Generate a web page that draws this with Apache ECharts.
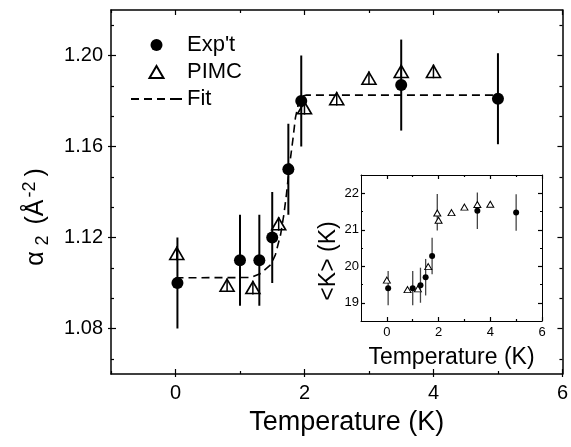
<!DOCTYPE html>
<html>
<head>
    <meta charset="utf-8">
    <title>alpha2 vs temperature</title>
    <script src="https://cdn.jsdelivr.net/npm/echarts@6/dist/echarts.min.js"></script>
    <style>
        html, body { margin: 0; padding: 0; background: #fff; }
        #chart { width: 571px; height: 447px; }
    </style>
</head>
<body>
<div id="chart"></div>
<script>
    // main panel data
    var expT = [0.03, 1.0, 1.3, 1.5, 1.75, 1.95, 3.5, 5.0];
    var expA = [1.100, 1.110, 1.110, 1.120, 1.150, 1.180, 1.187, 1.181];
    var expErr = [0.02, 0.02, 0.02, 0.02, 0.02, 0.02, 0.02, 0.02];

    var pimcT = [0.02, 0.8, 1.2, 1.6, 2.0, 2.5, 3.0, 3.5, 4.0];
    var pimcA = [1.113, 1.099, 1.098, 1.126, 1.177, 1.181, 1.190, 1.193, 1.193];
    var pimcErr = [0.003, 0.003, 0.003, 0.003, 0.003, 0.003, 0.003, 0.003, 0.003];

    var fitT = [0.0, 1.17, 1.32, 1.48, 1.55, 1.63, 1.68, 1.72, 1.77, 1.82, 1.86, 1.91, 1.95, 2.03, 5.0];
    var fitA = [1.1023, 1.1024, 1.1042, 1.1081, 1.1125, 1.1213, 1.130, 1.1389, 1.152, 1.163, 1.1727, 1.1793, 1.182, 1.1826, 1.1826];

    // inset data
    var inExpT = [0.05, 1.0, 1.3, 1.5, 1.75, 3.5, 5.0];
    var inExpK = [19.40, 19.40, 19.48, 19.70, 20.28, 21.52, 21.47];
    var inExpErr = [0.47, 0.47, 0.48, 0.5, 0.5, 0.5, 0.5];
    var inBarT = [1.95];
    var inBarK = [21.48];
    var inBarErr = [0.5];

    var inPimcT = [0.0, 0.8, 1.2, 1.6, 1.95, 2.0, 2.5, 3.0, 3.5, 4.0];
    var inPimcK = [19.62, 19.36, 19.38, 19.99, 21.46, 21.26, 21.47, 21.62, 21.69, 21.70];
    var inPimcErr = [0.06, 0.06, 0.06, 0.06, 0.06, 0.06, 0.06, 0.06, 0.06, 0.06];

    // ticks
    var mainXMajor = [0, 2, 4, 6];
    var mainXMinor = [-1, 1, 3, 5];
    var mainYMajor = [1.08, 1.12, 1.16, 1.20];
    var mainYMinor = [1.0667, 1.0933, 1.1067, 1.1333, 1.1467, 1.1733, 1.1867, 1.2133];
    var inXMajor = [0, 2, 4, 6];
    var inXMinor = [1, 3, 5];
    var inYMajor = [19, 20, 21, 22];
    var inYMinor = [19.5, 20.5, 21.5];

    var FONT = 'Liberation Sans, Arial, sans-serif';

    function zip(a, b, c) {
        return a.map(function (v, i) { return c ? [v, b[i], c[i]] : [v, b[i]]; });
    }

    // one axis = one set of ticks (ECharts has no per-tick length)
    function axis(grid, pos, range, ticks, len, inside, extra) {
        var o = {
            type: 'value', gridIndex: grid, position: pos,
            min: range[0], max: range[1],
            splitLine: { show: false },
            axisLine: { show: false, onZero: false },
            axisTick: { show: true, inside: inside, length: len, customValues: ticks,
                lineStyle: { color: '#000', width: 1.2 } },
            axisLabel: { show: false }
        };
        return Object.assign(o, extra || {});
    }

    var frame = { show: true, onZero: false, lineStyle: { color: '#000', width: 1.5 } };
    var thin = { show: true, onZero: false, lineStyle: { color: '#000', width: 1 } };
    var mx = [-1, 6], my = [1.06, 1.22], ix = [-1, 6], iy = [18.5, 22.5];

    var xAxes = [
        // main grid
        axis(0, 'bottom', mx, mainXMajor, 5, true, {
            axisLine: frame,
            axisLabel: { show: true, customValues: mainXMajor, fontSize: 20, color: '#000',
                fontFamily: FONT, margin: 9 },
            name: 'Temperature (K)', nameLocation: 'middle', nameGap: 35,
            nameTextStyle: { fontSize: 27, fontFamily: FONT, color: '#000', padding: [0, 0, 0, 20] }
        }),
        axis(0, 'bottom', mx, mainXMajor, 3, false),
        axis(0, 'bottom', mx, mainXMinor, 3, true),
        axis(0, 'top', mx, mainXMajor, 5, true, { axisLine: frame }),
        axis(0, 'top', mx, mainXMinor, 3, true),
        // inset grid
        axis(1, 'bottom', ix, inXMajor, 4, true, {
            axisLine: thin,
            axisLabel: { show: true, customValues: inXMajor, fontSize: 13, color: '#000',
                fontFamily: FONT, margin: 5 },
            name: 'Temperature (K)', nameLocation: 'middle', nameGap: 25,
            nameTextStyle: { fontSize: 23, fontFamily: FONT, color: '#000' }
        }),
        axis(1, 'bottom', ix, inXMinor, 2, true),
        axis(1, 'top', ix, inXMajor, 4, true, { axisLine: thin }),
        axis(1, 'top', ix, inXMinor, 2, true)
    ];

    var yAxes = [
        axis(0, 'left', my, mainYMajor, 5, true, {
            axisLine: frame,
            axisLabel: { show: true, customValues: mainYMajor, fontSize: 20, color: '#000',
                fontFamily: FONT, margin: 8,
                formatter: function (v) { return v.toFixed(2); } },
            name: '{a|α}{s|2}{a| (Å}{p|-2}{a|)}', nameLocation: 'middle', nameGap: 59, nameRotate: 90,
            nameTextStyle: {
                color: '#000', fontFamily: FONT, padding: [0, 50, 0, 0],
                rich: {
                    a: { fontSize: 25, fontFamily: FONT, color: '#000' },
                    s: { fontSize: 18, fontFamily: FONT, color: '#000', padding: [14, 4, 0, 6] },
                    p: { fontSize: 18, fontFamily: FONT, color: '#000', padding: [0, 5, 12, 2] }
                }
            }
        }),
        axis(0, 'left', my, mainYMajor, 3, false),
        axis(0, 'left', my, mainYMinor, 3, true),
        axis(0, 'right', my, mainYMajor, 5, true, { axisLine: frame }),
        axis(0, 'right', my, mainYMinor, 3, true),
        axis(1, 'left', iy, inYMajor, 4, true, {
            axisLine: thin,
            axisLabel: { show: true, customValues: inYMajor, fontSize: 13, color: '#000',
                fontFamily: FONT, margin: 2 },
            name: '<K> (K)', nameLocation: 'middle', nameGap: 19, nameRotate: 90,
            nameTextStyle: { fontSize: 23, fontFamily: FONT, color: '#000', padding: [0, 26, 0, 0] }
        }),
        axis(1, 'left', iy, inYMinor, 2, true),
        axis(1, 'right', iy, inYMajor, 4, true, { axisLine: thin }),
        axis(1, 'right', iy, inYMinor, 2, true)
    ];

    function errBars(color, width) {
        return function (params, api) {
            var x = api.value(0), y = api.value(1), e = api.value(2);
            var p1 = api.coord([x, y + e]);
            var p2 = api.coord([x, y - e]);
            return {
                type: 'line',
                shape: { x1: p1[0], y1: p1[1], x2: p2[0], y2: p2[1] },
                style: { stroke: color, lineWidth: width }
            };
        };
    }

    var triIcon = 'path://M7,0L14,12L0,12Z';
    var dashIcon = 'path://M0,0h8v2h-8z M13,0h8v2h-8z M26,0h8v2h-8z M39,0h12v2h-12z';

    var option = {
        animation: false,
        backgroundColor: '#fff',
        grid: [
            { left: 111, top: 10, right: 6, bottom: 73 },
            { left: 361, top: 175, right: 29, bottom: 126 }
        ],
        xAxis: xAxes,
        yAxis: yAxes,
        legend: {
            data: [{ name: "Exp't" }, { name: 'PIMC', icon: triIcon }, { name: 'Fit', icon: dashIcon }],
            orient: 'vertical',
            left: 126, top: 29,
            itemWidth: 51, itemHeight: 12, itemGap: 5,
            symbolKeepAspect: true,
            textStyle: { fontSize: 22, fontFamily: FONT, color: '#000' },
            selectedMode: false
        },
        series: [
            {
                name: 'Fit', type: 'line', xAxisIndex: 0, yAxisIndex: 0,
                data: zip(fitT, fitA), symbol: 'none', showSymbol: false,
                lineStyle: { color: '#000', width: 1.6, type: [8, 5] },
                itemStyle: { color: '#000' }
            },
            {
                name: 'expErr', type: 'custom', xAxisIndex: 0, yAxisIndex: 0,
                data: zip(expT, expA, expErr), renderItem: errBars('#000', 2),
                encode: { x: 0, y: 1 }
            },
            {
                name: 'pimcErr', type: 'custom', xAxisIndex: 0, yAxisIndex: 0,
                data: zip(pimcT, pimcA, pimcErr), renderItem: errBars('#000', 1.5),
                encode: { x: 0, y: 1 }
            },
            {
                name: "Exp't", type: 'scatter', xAxisIndex: 0, yAxisIndex: 0,
                data: zip(expT, expA), symbol: 'circle', symbolSize: 12,
                itemStyle: { color: '#000', opacity: 1 }
            },
            {
                name: 'PIMC', type: 'scatter', xAxisIndex: 0, yAxisIndex: 0,
                data: zip(pimcT, pimcA), symbol: 'triangle', symbolSize: [14, 12],
                itemStyle: { color: 'rgba(255,255,255,0)', borderColor: '#000', borderWidth: 1.6, opacity: 1 }
            },
            // inset
            {
                name: 'inExpErr', type: 'custom', xAxisIndex: 5, yAxisIndex: 5,
                data: zip(inExpT, inExpK, inExpErr).concat(zip(inBarT, inBarK, inBarErr)),
                renderItem: errBars('#444', 1.3),
                encode: { x: 0, y: 1 }
            },
            {
                name: 'inPimcErr', type: 'custom', xAxisIndex: 5, yAxisIndex: 5,
                data: zip(inPimcT, inPimcK, inPimcErr), renderItem: errBars('#444', 1),
                encode: { x: 0, y: 1 }
            },
            {
                name: 'inExp', type: 'scatter', xAxisIndex: 5, yAxisIndex: 5,
                data: zip(inExpT, inExpK), symbol: 'circle', symbolSize: 6,
                itemStyle: { color: '#000', opacity: 1 }
            },
            {
                name: 'inPimc', type: 'scatter', xAxisIndex: 5, yAxisIndex: 5,
                data: zip(inPimcT, inPimcK), symbol: 'triangle', symbolSize: [7, 6],
                itemStyle: { color: '#fff', borderColor: '#000', borderWidth: 1, opacity: 1 }
            }
        ]
    };

    var chart = echarts.init(document.getElementById('chart'), null, { renderer: 'canvas' });
    chart.setOption(option);
</script>
</body>
</html>
